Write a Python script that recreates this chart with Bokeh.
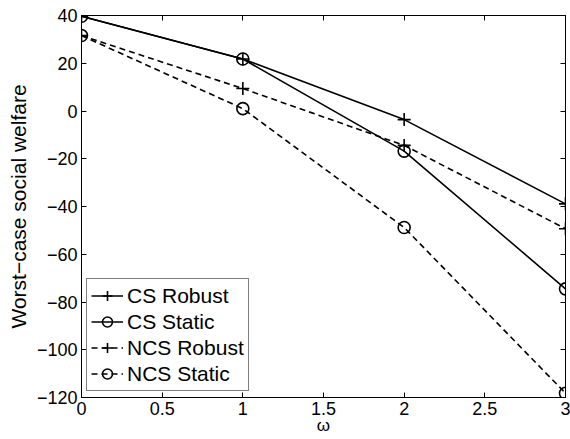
from bokeh.plotting import figure
from bokeh.models import LinearAxis, Range1d, FixedTicker, Legend, LegendItem
from bokeh.embed import file_html
from bokeh.resources import INLINE

omega = [0, 1, 2, 3]
cs_robust = [39.7, 21.8, -3.6, -38.9]
cs_static = [39.7, 21.8, -16.8, -74.5]
ncs_robust = [31.6, 9.4, -14.4, -49.3]
ncs_static = [31.6, 1.0, -48.8, -118.2]

x_ticks = [0, 0.5, 1, 1.5, 2, 2.5, 3]
y_ticks = [-120, -100, -80, -60, -40, -20, 0, 20, 40]

FONT = "Liberation Sans"

p = figure(width=570, height=439, output_backend="svg", toolbar_location=None,
           x_range=Range1d(0, 3), y_range=Range1d(-120, 40),
           min_border_left=81, min_border_top=15, min_border_right=5, min_border_bottom=42)
p.xgrid.visible = False
p.ygrid.visible = False
p.outline_line_color = "black"
p.outline_line_width = 1
p.background_fill_color = "white"
p.border_fill_color = "white"

def style_axis(ax, ticks, show_labels=True):
    ax.ticker = FixedTicker(ticks=ticks)
    ax.major_tick_in = 5
    ax.major_tick_out = 0
    ax.minor_tick_in = 0
    ax.minor_tick_out = 0
    ax.axis_line_color = "black"
    ax.major_tick_line_color = "black"
    ax.major_label_text_font = FONT
    ax.major_label_text_font_size = "18px"
    ax.major_label_text_color = "black"
    if not show_labels:
        ax.major_label_text_font_size = "0px"
        ax.major_label_text_alpha = 0
        ax.major_label_standoff = 0

style_axis(p.xaxis[0], x_ticks)
style_axis(p.yaxis[0], y_ticks)
p.xaxis[0].major_label_overrides = {t: ("%g" % t) for t in x_ticks}
p.yaxis[0].major_label_overrides = {t: ("%g" % t).replace("-", "\u2212") for t in y_ticks}
p.xaxis[0].major_label_standoff = 4
p.yaxis[0].major_label_standoff = 4

p.xaxis[0].axis_label = "\u03c9"
p.yaxis[0].axis_label = "Worst\u2212case social welfare"
for ax in (p.xaxis[0], p.yaxis[0]):
    ax.axis_label_text_font = FONT
    ax.axis_label_text_font_style = "normal"
    ax.axis_label_text_color = "black"
p.xaxis[0].axis_label_text_font_size = "17px"
p.yaxis[0].axis_label_text_font_size = "21px"
p.xaxis[0].axis_label_standoff = -2
p.yaxis[0].axis_label_standoff = 4

top = LinearAxis()
right = LinearAxis()
style_axis(top, x_ticks, show_labels=False)
style_axis(right, y_ticks, show_labels=False)
p.add_layout(top, "above")
p.add_layout(right, "right")

series = [
    ("CS Robust", cs_robust, "solid", "cross"),
    ("CS Static", cs_static, "solid", "circle"),
    ("NCS Robust", ncs_robust, "6 4", "cross"),
    ("NCS Static", ncs_static, "6 4", "circle"),
]
items = []
for label, ys, dash, marker in series:
    ln = p.line(omega, ys, line_color="black", line_width=1.6, line_dash=dash)
    if marker == "cross":
        mk = p.scatter(omega, ys, marker="cross", size=13, line_color="black", line_width=1.6)
    else:
        mk = p.scatter(omega, ys, marker="circle", size=12, fill_color=None,
                       line_color="black", line_width=1.6)
    items.append(LegendItem(label=label, renderers=[ln, mk]))

legend = Legend(items=items, location=(5, 6))
legend.label_text_font = FONT
legend.label_text_font_size = "21px"
legend.label_text_color = "black"
legend.border_line_color = "black"
legend.border_line_width = 1
legend.background_fill_color = "white"
legend.background_fill_alpha = 1
legend.glyph_width = 32
legend.glyph_height = 25
legend.label_height = 25
legend.label_standoff = 4
legend.spacing = 1
legend.padding = 4
legend.margin = 0
p.add_layout(legend, "center")

open("out.html", "w").write(file_html(p, INLINE))
